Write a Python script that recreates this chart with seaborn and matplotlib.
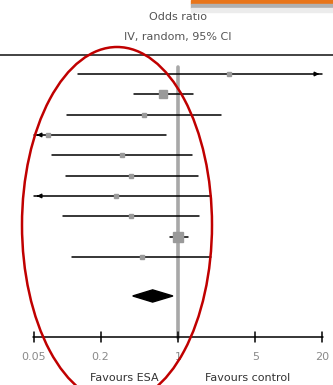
# Forest plot: odds ratio, IV random, 95% CI
import numpy as np
import matplotlib
matplotlib.use("Agg")
import matplotlib.pyplot as plt
from matplotlib.patches import Ellipse, Polygon, Rectangle
import seaborn as sns

sns.set_theme(style="white")
plt.rcParams['font.family'] = ['DejaVu Sans']

# Study estimates (odds ratios)
odds_ratio = [2.89, 0.73, 0.49, 0.067, 0.31, 0.38, 0.275, 0.38, 1.0, 0.47]
ci_low = [0.125, 0.40, 0.099, 0.04, 0.073, 0.097, 0.04, 0.091, 0.85, 0.11]
ci_high = [30.0, 1.37, 2.45, 0.78, 1.34, 1.52, 1.99, 1.55, 1.23, 1.99]
marker_size = [2.5, 5.5, 2.5, 2.5, 3, 3, 2.5, 3, 7, 2.5]

# Pooled estimate
pooled = [0.39, 0.59, 0.90]

ticks = [0.05, 0.2, 1, 5, 20]
tick_labels = ["0.05", "0.2", "1", "5", "20"]

fig = plt.figure(figsize=(3.33, 3.85), dpi=100)
ax = fig.add_axes([0, 0, 1, 1])
ax.set_xscale("log")
ax.set_xlim(10 ** (-178 / 110.7), 10 ** (155 / 110.7))
ax.set_ylim(15.30, -3.64)
ax.axis("off")

xmin, xmax = ticks[0], ticks[-1]

# no-effect line
ax.plot([1, 1], [-0.35, 13], color="#a8a8a8", lw=2.6, zorder=1)

for i, (m, lo, hi, s) in enumerate(zip(odds_ratio, ci_low, ci_high, marker_size)):
    lo_c = max(lo, xmin)
    hi_c = min(hi, xmax)
    ax.plot([lo_c, hi_c], [i, i], color="black", lw=1.1, zorder=2)
    if hi > xmax:
        ax.annotate("", xy=(hi_c, i), xytext=(hi_c * 0.85, i),
                    arrowprops=dict(arrowstyle="-|>", color="black", lw=1.1,
                                    mutation_scale=6), zorder=3)
    if lo < xmin:
        ax.annotate("", xy=(lo_c, i), xytext=(lo_c * 1.15, i),
                    arrowprops=dict(arrowstyle="-|>", color="black", lw=1.1,
                                    mutation_scale=6), zorder=3)
    ax.plot(m, i, marker="s", ms=s, color="#9a9a9a", mec="#9a9a9a", zorder=4)

# pooled diamond
lo, mid, hi = pooled
d = Polygon([[lo, 10.92], [mid, 10.62], [hi, 10.92], [mid, 11.22]],
            closed=True, color="black", zorder=4)
ax.add_patch(d)

# x axis
ax.plot([xmin * 0.98, xmax * 1.02], [12.94, 12.94], color="black", lw=1.1)
for t, lab in zip(ticks, tick_labels):
    ax.plot([t, t], [12.7, 13.18], color="black", lw=1.1)
    ax.text(t, 13.9, lab, ha="center", va="center", fontsize=8,
            color="#8a8a8a")

ax.text(0.33, 14.95, "Favours ESA", ha="center", va="center",
        fontsize=8, color="#333333")
ax.text(4.3, 14.95, "Favours control", ha="center", va="center",
        fontsize=8, color="#333333")

# header
ax.text(1, -2.8, "Odds ratio", ha="center", va="center", fontsize=8,
        color="#555555")
ax.text(1, -1.82, "IV, random, 95% CI", ha="center", va="center",
        fontsize=8, color="#555555")
ax.plot([ax.get_xlim()[0], ax.get_xlim()[1]], [-0.93, -0.93], color="#222222",
        lw=1.2)

# orange strip at top right (pixel coords)
fig.patches.append(Rectangle((191 / 333, 1 - 4 / 385), 142 / 333, 4 / 385,
                             transform=fig.transFigure, color="#e8751a"))
fig.patches.append(Rectangle((191 / 333, 1 - 8 / 385), 142 / 333, 4 / 385,
                             transform=fig.transFigure, color="#b0b0b0"))
fig.patches.append(Rectangle((191 / 333, 1 - 12 / 385), 142 / 333, 4 / 385,
                             transform=fig.transFigure, color="#ececec"))

# red annotation ellipse (pixel coords)
ell = Ellipse((117 / 333, 1 - 225 / 385), 190 / 333, 356 / 385,
              transform=fig.transFigure, fill=False, ec="#c00000", lw=1.8,
              zorder=10)
fig.patches.append(ell)

fig.savefig("out.png", dpi=100)
